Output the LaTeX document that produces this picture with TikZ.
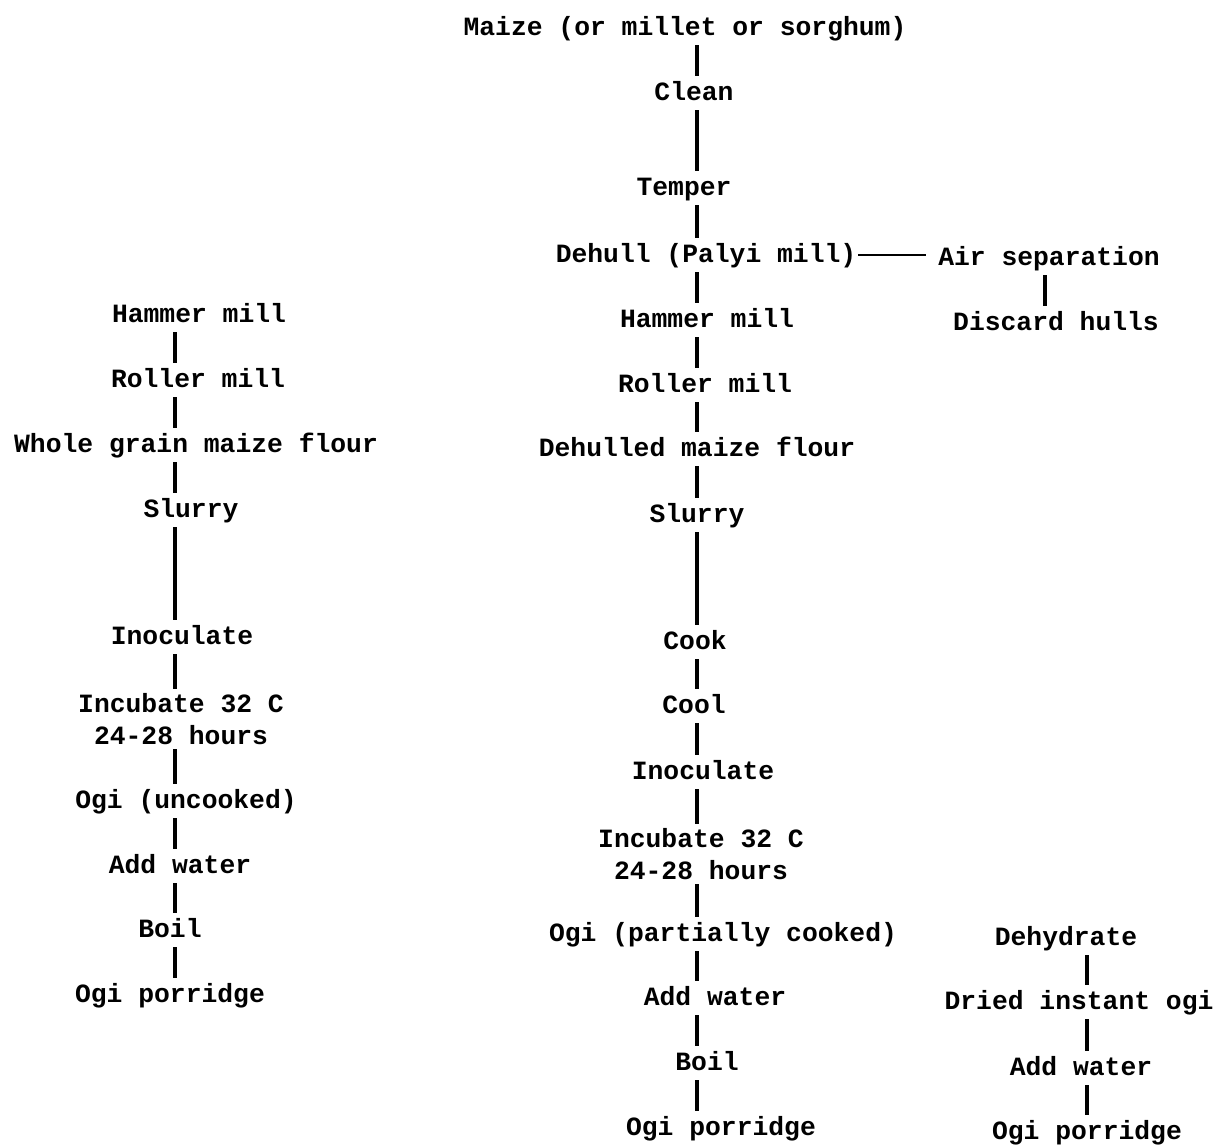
\documentclass[tikz,border=0pt]{standalone}
\usepackage{fontspec}
\setmonofont{Liberation Mono}
\begin{document}
\begin{tikzpicture}[x=0.02cm,y=-0.02cm]
        \useasboundingbox (0,0) rectangle (1217,1145);
        \coordinate (lc) at (175,0);
        \coordinate (mc) at (697,0);
        \coordinate (rc) at (1045,0);
        \coordinate (dc) at (1087,0);
        \begin{scope}[every node/.style={font=\ttfamily\bfseries\fontsize{15}{18.2}\selectfont,inner xsep=1pt,inner ysep=2.5pt,text height=11pt,text depth=3pt,align=center},
                      twoline/.style={text height={},text depth={}}]
          % middle column
          \node (c1) at (685,28) {Maize (or millet or sorghum)};
          \node (c2) at (694,93) {Clean};
          \node (c3) at (684,188) {Temper};
          \node (c4) at (706,255) {Dehull (Palyi mill)};
          \node (c5) at (707,320) {Hammer mill};
          \node (c6) at (705,385) {Roller mill};
          \node (c7) at (697,449) {Dehulled maize flour};
          \node (c8) at (697,515) {Slurry};
          \node (c9) at (695,642) {Cook};
          \node (c10) at (694,706) {Cool};
          \node (c11) at (703,772) {Inoculate};
          \node[twoline] (c12) at (701,854) {Incubate 32 C\\24-28 hours};
          \node (c13) at (723,934) {Ogi (partially cooked)};
          \node (c14) at (715,998) {Add water};
          \node (c15) at (707,1063) {Boil};
          \node (c16) at (721,1128) {Ogi porridge};
          % right column
          \node (r1) at (1049,258) {Air separation};
          \node (r2) at (1056,323) {Discard hulls};
          \node (d1) at (1066,938) {Dehydrate};
          \node (d2) at (1079,1002) {Dried instant ogi};
          \node (d3) at (1081,1068) {Add water};
          \node (d4) at (1087,1132) {Ogi porridge};
          % left column
          \node (l1) at (199,315) {Hammer mill};
          \node (l2) at (198,380) {Roller mill};
          \node (l3) at (196,445) {Whole grain maize flour};
          \node (l4) at (191,510) {Slurry};
          \node (l5) at (182,637) {Inoculate};
          \node[twoline] (l6) at (181,719) {Incubate 32 C\\24-28 hours};
          \node (l7) at (186,801) {Ogi (uncooked)};
          \node (l8) at (180,866) {Add water};
          \node (l9) at (170,930) {Boil};
          \node (l10) at (170,995) {Ogi porridge};
        \end{scope}
        \begin{scope}[every edge/.style={draw=black,line width=2pt}]
          \path (c1.south -| mc) edge (c2.north -| mc);
          \path (c2.south -| mc) edge (c3.north -| mc);
          \path (c3.south -| mc) edge (c4.north -| mc);
          \path (c4.south -| mc) edge (c5.north -| mc);
          \path (c5.south -| mc) edge (c6.north -| mc);
          \path (c6.south -| mc) edge (c7.north -| mc);
          \path (c7.south -| mc) edge (c8.north -| mc);
          \path (c8.south -| mc) edge (c9.north -| mc);
          \path (c9.south -| mc) edge (c10.north -| mc);
          \path (c10.south -| mc) edge (c11.north -| mc);
          \path (c11.south -| mc) edge (c12.north -| mc);
          \path (c12.south -| mc) edge (c13.north -| mc);
          \path (c13.south -| mc) edge (c14.north -| mc);
          \path (c14.south -| mc) edge (c15.north -| mc);
          \path (c15.south -| mc) edge (c16.north -| mc);
          \path (c4.east) edge[line width=1.4pt,shorten >=6pt] (c4.east -| r1.west);
          \path (r1.south -| rc) edge (r2.north -| rc);
          \path (d1.south -| dc) edge (d2.north -| dc);
          \path (d2.south -| dc) edge (d3.north -| dc);
          \path (d3.south -| dc) edge (d4.north -| dc);
          \path (l1.south -| lc) edge (l2.north -| lc);
          \path (l2.south -| lc) edge (l3.north -| lc);
          \path (l3.south -| lc) edge (l4.north -| lc);
          \path (l4.south -| lc) edge (l5.north -| lc);
          \path (l5.south -| lc) edge (l6.north -| lc);
          \path (l6.south -| lc) edge (l7.north -| lc);
          \path (l7.south -| lc) edge (l8.north -| lc);
          \path (l8.south -| lc) edge (l9.north -| lc);
          \path (l9.south -| lc) edge (l10.north -| lc);
        \end{scope}
\end{tikzpicture}
\end{document}
